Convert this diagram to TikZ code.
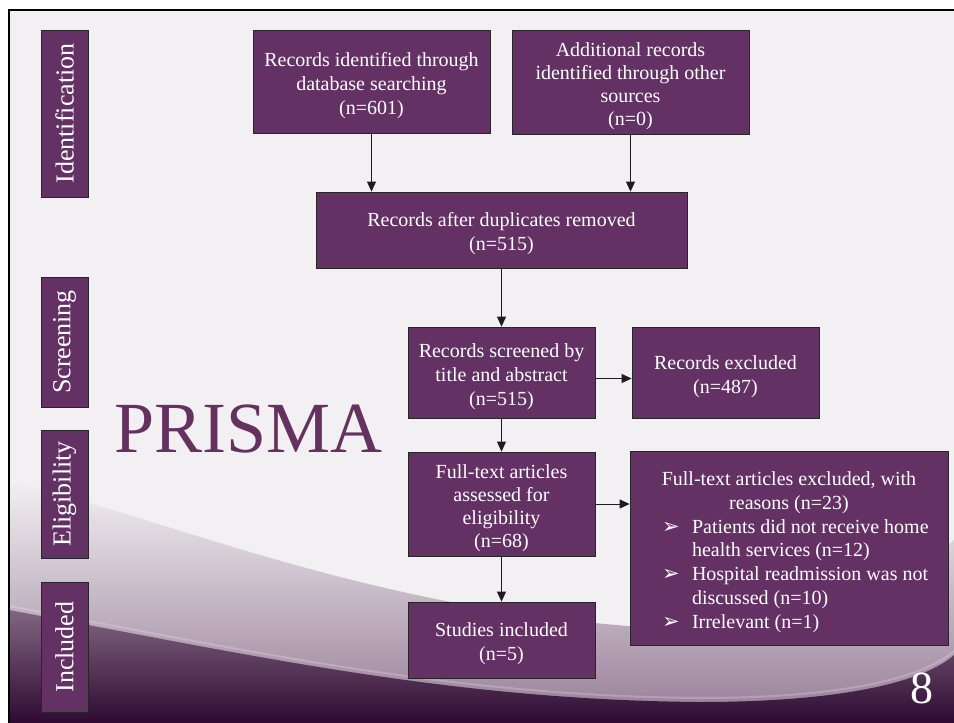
\documentclass[tikz,border=0pt]{standalone}
\usepackage{fontspec}
\setmainfont{Liberation Serif}
\newfontfamily\symfont{DejaVu Sans}
\usetikzlibrary{arrows.meta}
\definecolor{boxpurple}{RGB}{99,49,99}
\definecolor{prismapurple}{RGB}{101,50,96}
\definecolor{bgcol}{RGB}{242,240,242}
\definecolor{darkpurple}{RGB}{46,10,50}
\definecolor{midpurple}{RGB}{150,124,150}
\definecolor{arrowcol}{RGB}{35,25,35}
\newcommand{\bul}{{\symfont\fontsize{21}{21}\selectfont ➢}}
\newcommand{\tstrut}{\rule{0pt}{22pt}}
\tikzset{
  flowbox/.style={draw=black!85, line width=0.8pt, fill=boxpurple, text=white,
    align=center, font=\fontsize{20}{24}\selectfont, inner sep=0pt},
  listbox/.style={draw=black!85, line width=0.8pt, fill=boxpurple, text=white, inner sep=0pt},
  lanebox/.style={draw=black!85, line width=0.8pt, fill=boxpurple, text=white,
    minimum height=47pt, rotate=90, inner sep=0pt, font=\fontsize{26}{30}\selectfont},
  arr/.style={draw=arrowcol, line width=0.8pt, -{Triangle[length=10pt,width=9pt]}},
}
\begin{document}
\begin{tikzpicture}[x=1pt,y=-1pt]
\useasboundingbox (0,0) rectangle (954,723);
% background
\fill[white] (0,0) rectangle (954,723);
\fill[bgcol] (9,10) rectangle (954,723);
\shade[top color=bgcol, bottom color=midpurple]
  (9,480) .. controls (200,530) and (400,620) .. (700,630)
  .. controls (820,634) and (900,590) .. (954,540) -- (954,723) -- (9,723) -- cycle;
\shade[top color=midpurple!80!darkpurple, bottom color=darkpurple]
  (9,610) .. controls (250,655) and (450,700) .. (700,702)
  .. controls (830,702) and (920,685) .. (954,655) -- (954,723) -- (9,723) -- cycle;
\draw[white, opacity=0.2, line width=2pt]
  (9,606) .. controls (250,651) and (450,696) .. (700,698)
  .. controls (830,698) and (920,681) .. (954,651);
\draw[black, line width=2pt] (9,723) -- (9,10) -- (954,10);

% lane labels
\node[lanebox, minimum width=167pt] (lid) at (64.5,113.5) {Identification};
\node[lanebox, minimum width=130pt] (lsc) at (64.5,342) {Screening};
\node[lanebox, minimum width=128pt] (lel) at (64.5,494) {Eligibility};
\node[lanebox, minimum width=130pt] (lin) at (64.5,647) {Included};

% title
\node[anchor=base west, inner sep=0pt, text=prismapurple, font=\fontsize{72}{72}\selectfont] (title) at (114,452) {PRISMA};
\node[anchor=base, inner sep=0pt, text=white, font=\fontsize{46}{46}\selectfont] (pnum) at (922,703) {8};

% flow boxes
\node[flowbox, minimum width=237pt, minimum height=103pt] (b1) at (371.5,81.5)
  {\tstrut Records identified through\\database searching\\(n=601)};
\node[flowbox, minimum width=237pt, minimum height=104pt, font=\fontsize{20}{23}\selectfont] (b2) at (630.5,82)
  {\tstrut Additional records\\identified through other\\sources\\(n=0)};
\node[flowbox, minimum width=371pt, minimum height=76pt] (b3) at (501.5,230)
  {\tstrut Records after duplicates removed\\(n=515)};
\node[flowbox, minimum width=187pt, minimum height=91pt] (b4) at (501.5,372.5)
  {\tstrut Records screened by\\title and abstract\\(n=515)};
\node[flowbox, minimum width=187pt, minimum height=91pt] (b5) at (725.5,372.5)
  {\tstrut Records excluded\\(n=487)};
\node[flowbox, minimum width=187pt, minimum height=104pt, font=\fontsize{20}{23}\selectfont] (b6) at (501.5,504)
  {\tstrut Full-text articles\\assessed for\\eligibility\\(n=68)};
\node[listbox, minimum width=318pt, minimum height=194pt] (b7) at (789,548) {%
  \begin{minipage}{318pt}\fontsize{20}{23.8}\selectfont
  \vspace*{8pt}
  {\centering Full-text articles excluded, with\\reasons (n=23)\par}
  \raggedright
  \hangindent=62pt\hangafter=1\noindent\hspace*{32pt}\makebox[30pt][l]{\bul}Patients did not receive home\newline health services (n=12)\par
  \hangindent=62pt\hangafter=1\noindent\hspace*{32pt}\makebox[30pt][l]{\bul}Hospital readmission was not\newline discussed (n=10)\par
  \hangindent=62pt\hangafter=1\noindent\hspace*{32pt}\makebox[30pt][l]{\bul}Irrelevant (n=1)\par
  \end{minipage}};
\node[flowbox, minimum width=187pt, minimum height=76pt] (b8) at (501.5,640)
  {\tstrut Studies included\\(n=5)};

% connectors
\draw[arr] (b1.south) -- (b1.south |- b3.north);
\draw[arr] (b2.south) -- (b2.south |- b3.north);
\draw[arr] (b3.south) -- (b4.north);
\draw[arr] ([yshift=-6pt]b4.east) -- ([yshift=-6pt]b5.west);
\draw[arr] (b4.south) -- (b6.north);
\draw[arr] (b6.east) -- (b6.east -| b7.west);
\draw[arr] (b6.south) -- (b8.north);
\end{tikzpicture}
\end{document}
